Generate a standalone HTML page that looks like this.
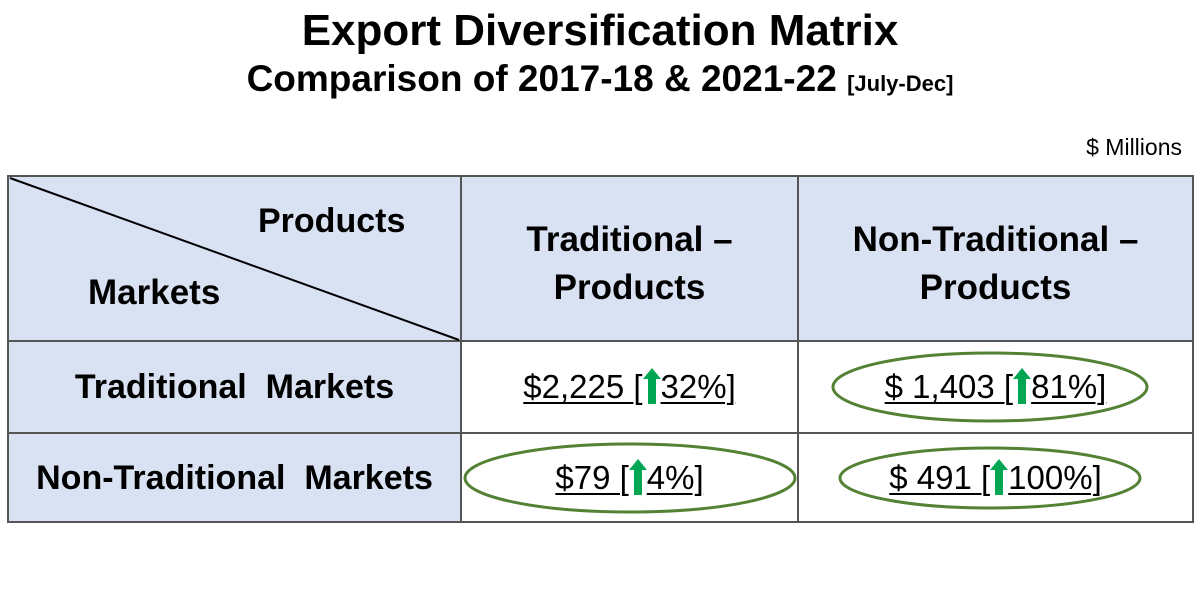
<!DOCTYPE html>
<html><head><style>
body{margin:0;width:1200px;height:600px;background:#fff;position:relative;overflow:hidden;font-family:"Liberation Sans",sans-serif;color:#000}
.a{position:absolute;white-space:nowrap}
.b{font-weight:bold}
.c{text-align:center}
.v{font-size:33px;text-decoration:underline;text-underline-offset:4px;text-decoration-thickness:2px}
.ar{display:inline-block;width:18px;height:36px;vertical-align:-6px}
</style></head><body>
<div class="a b c" style="left:0;width:1200px;top:6px;font-size:44px">Export Diversification Matrix</div>
<div class="a b c" style="left:0;width:1200px;top:58px;font-size:37px">Comparison of 2017-18 &amp; 2021-22 <span style="font-size:22px">[July-Dec]</span></div>
<div class="a" style="right:18px;top:134px;font-size:23px">$ Millions</div>
<svg class="a" style="left:0;top:0" width="1200" height="600">
<rect x="8" y="176" width="1185" height="165" fill="#d9e2f3"/>
<rect x="8" y="341" width="453" height="181" fill="#d9e2f3"/>
<g stroke="#555" stroke-width="2" fill="none">
<rect x="8" y="176" width="1185" height="346"/>
<line x1="8" y1="341" x2="1193" y2="341"/><line x1="8" y1="433" x2="1193" y2="433"/>
<line x1="461" y1="176" x2="461" y2="522"/><line x1="798" y1="176" x2="798" y2="522"/>
</g>
<line x1="10" y1="178" x2="459" y2="340" stroke="#000" stroke-width="2"/>
<g stroke="#548235" stroke-width="3" fill="none">
<ellipse cx="990" cy="387" rx="157" ry="34"/>
<ellipse cx="630" cy="478" rx="165" ry="34"/>
<ellipse cx="990" cy="478" rx="150" ry="30"/>
</g>
</svg>
<div class="a b" style="left:258px;top:202px;font-size:34px">Products</div>
<div class="a b" style="left:88px;top:273px;font-size:35px">Markets</div>
<div class="a b c" style="left:461px;width:337px;top:216px;font-size:35px;line-height:48px">Traditional –<br>Products</div>
<div class="a b c" style="left:798px;width:395px;top:216px;font-size:35px;line-height:48px">Non-Traditional –<br>Products</div>
<div class="a b c" style="left:8px;width:453px;top:368px;font-size:34px">Traditional&nbsp; Markets</div>
<div class="a b c" style="left:8px;width:453px;top:459px;font-size:34px">Non-Traditional&nbsp; Markets</div>
<div class="a c v" style="left:461px;width:337px;top:368px">$2,225 [<svg class="ar" viewBox="0 0 18 36"><path d="M9 0L18 11H13V36H5V11H0Z" fill="#00a651"/></svg>32%]</div>
<div class="a c v" style="left:798px;width:395px;top:368px">$ 1,403 [<svg class="ar" viewBox="0 0 18 36"><path d="M9 0L18 11H13V36H5V11H0Z" fill="#00a651"/></svg>81%]</div>
<div class="a c v" style="left:461px;width:337px;top:459px">$79 [<svg class="ar" viewBox="0 0 18 36"><path d="M9 0L18 11H13V36H5V11H0Z" fill="#00a651"/></svg>4%]</div>
<div class="a c v" style="left:798px;width:395px;top:459px">$ 491 [<svg class="ar" viewBox="0 0 18 36"><path d="M9 0L18 11H13V36H5V11H0Z" fill="#00a651"/></svg>100%]</div>
</body></html>
